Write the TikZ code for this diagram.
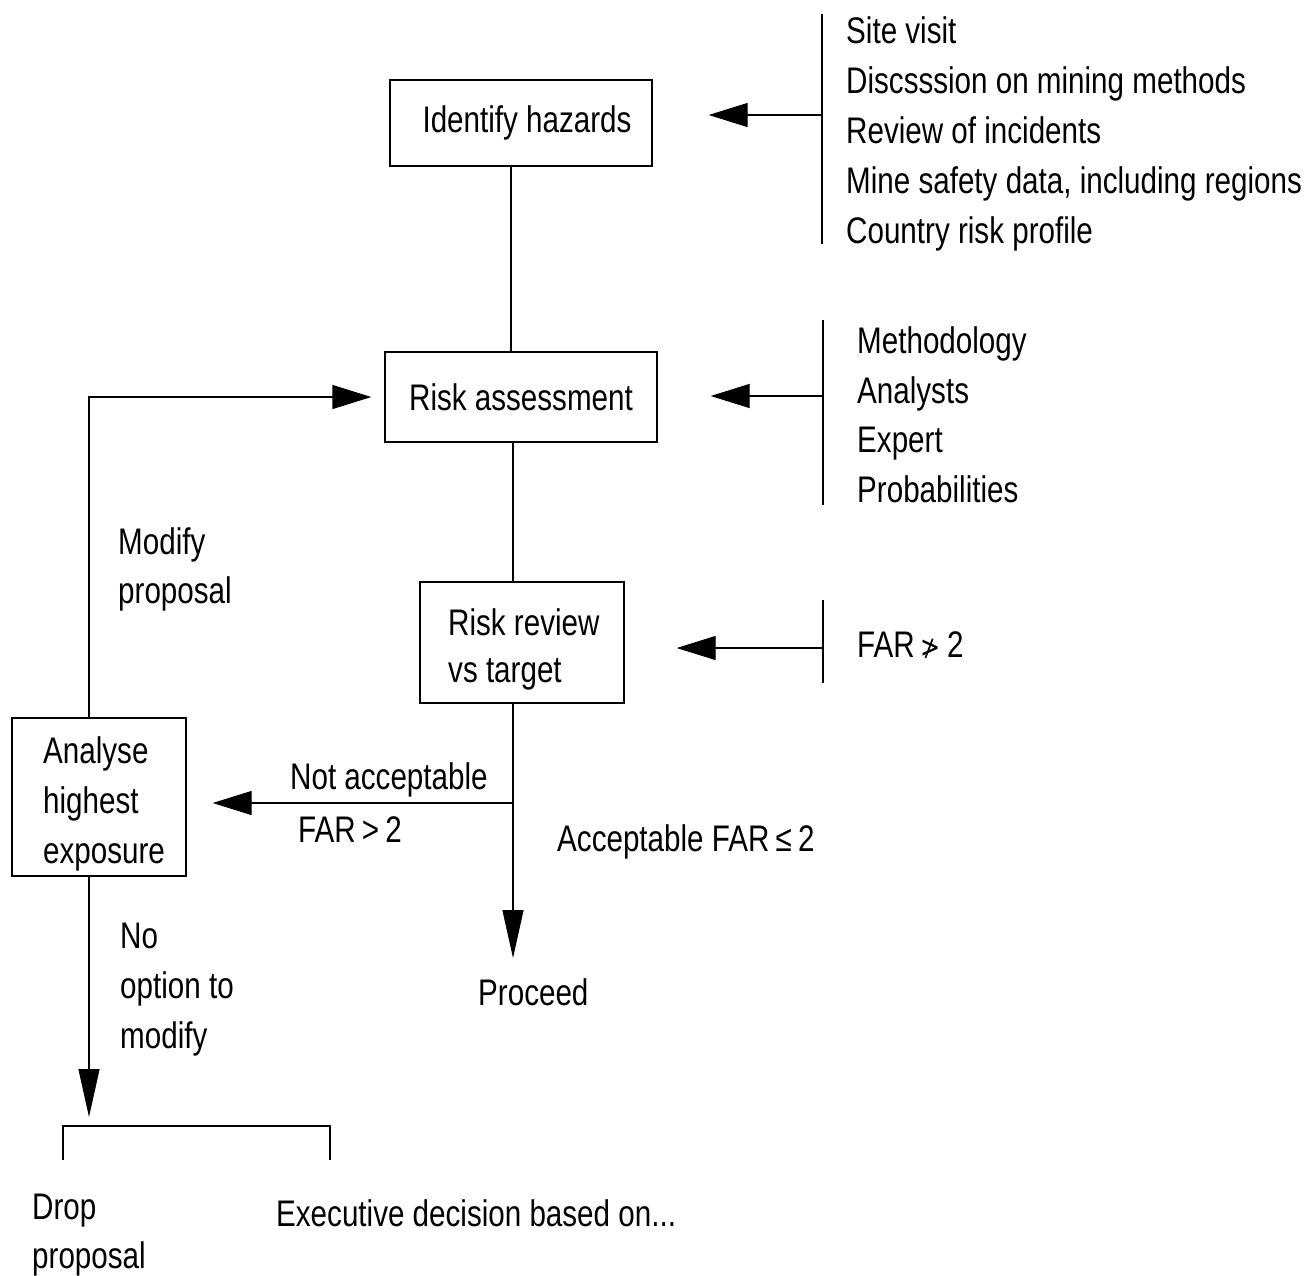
\documentclass[tikz,border=0pt]{standalone}
\usepackage{fontspec}
\setmainfont[FakeStretch=0.80]{Liberation Sans}
\newfontfamily\dejavu[FakeStretch=0.80]{DejaVu Sans}
\usetikzlibrary{arrows.meta}
\begin{document}
\begin{tikzpicture}[x=1pt,y=-1pt,
  every node/.style={inner sep=0pt, font=\fontsize{37}{49}\selectfont},
  box/.style={draw, line width=1.3pt, align=left},
  lbl/.style={anchor=base west, align=left},
  ln/.style={line width=1.3pt},
  harr/.style={ln, -{Triangle[length=39pt,width=24pt]}},
  varr/.style={ln, -{Triangle[length=48pt,width=21pt]}}]
\useasboundingbox (0,0) rectangle (1308,1275);

% boxes
\node[box, minimum width=262, minimum height=86] (ih) at (521,123) {\hspace*{12pt}Identify hazards};
\node[box, minimum width=272, minimum height=90] (ra) at (521,397) {Risk assessment};
\node[box, minimum width=204, minimum height=121] (rr) at (522,642.5) {};
\node[lbl, font=\fontsize{37}{47}\selectfont] (rrt) at (448,682) {Risk review\\vs target};
\node[box, minimum width=174, minimum height=158] (an) at (99,797) {};
\node[lbl, font=\fontsize{37}{50}\selectfont] (ant) at (43,863) {Analyse\\highest\\exposure};

% labels (base = last line)
\node[lbl] (na) at (290,789) {Not acceptable};
\node[lbl] (fg) at (298,842) {FAR\,{>}\,2};
\node[lbl] (ac) at (557,851) {Acceptable FAR\,≤\,2};
\node[lbl] (pr) at (478,1005) {Proceed};
\node[lbl] (mo) at (118,603) {Modify\\proposal};
\node[lbl, font=\fontsize{37}{50}\selectfont] (no) at (120,1048) {No\\option to\\modify};
\node[lbl] (dr) at (32,1268) {Drop\\proposal};
\node[lbl] (ex) at (276,1226) {Executive decision based on...};
\node[lbl, font=\fontsize{37}{50}\selectfont] (l1) at (846,243) {Site visit\\Discsssion on mining methods\\Review of incidents\\Mine safety data, including regions\\Country risk profile};
\node[lbl, font=\fontsize{37}{49.5}\selectfont] (l2) at (857,502) {Methodology\\Analysts\\Expert\\Probabilities};
\node[lbl] (l3) at (857,657) {FAR\,{\dejavu\fontsize{30}{30}\selectfont ≯}\,2};

% coordinates
\coordinate (b1t) at (822,14);  \coordinate (b1b) at (822,244); \coordinate (b1m) at (822,115);
\coordinate (b2t) at (823,320); \coordinate (b2b) at (823,505); \coordinate (b2m) at (823,396);
\coordinate (b3t) at (823,600); \coordinate (b3b) at (823,683); \coordinate (b3m) at (823,648);
\coordinate (split) at (513,803);
\coordinate (ptip) at (513,958);
\coordinate (corner) at (89,397);
\coordinate (dtip) at (89,1117);
\coordinate (brL) at (63,1160);
\coordinate (brR) at (330,1160);

% input bars
\draw[ln] (b1t) -- (b1b);
\draw[ln] (b2t) -- (b2b);
\draw[ln] (b3t) -- (b3b);
\draw[harr, shorten >=56pt] (b1m) -- (ih.east |- b1m);
\draw[harr, shorten >=53pt] (b2m) -- (ra.east |- b2m);
\draw[harr, shorten >=52pt] (b3m) -- (rr.east |- b3m);

% main flow
\draw[ln] ([xshift=-10pt]ih.south) -- ([xshift=-10pt]ra.north);
\draw[ln] ([xshift=-8pt]ra.south) -- ([xshift=-9pt]rr.north);
\draw[varr] ([xshift=-9pt]rr.south) -- (ptip);
\draw[harr, shorten >=26pt] (split) -- (an.east |- split);
\draw[harr, shorten >=13pt] ([xshift=-10pt]an.north) -- (corner) -- (ra.west |- corner);
\draw[varr] ([xshift=-10pt]an.south) -- (dtip);
\draw[ln] (brL) -- (brL |- 0,1126) -- (brR |- 0,1126) -- (brR);
\end{tikzpicture}
\end{document}
